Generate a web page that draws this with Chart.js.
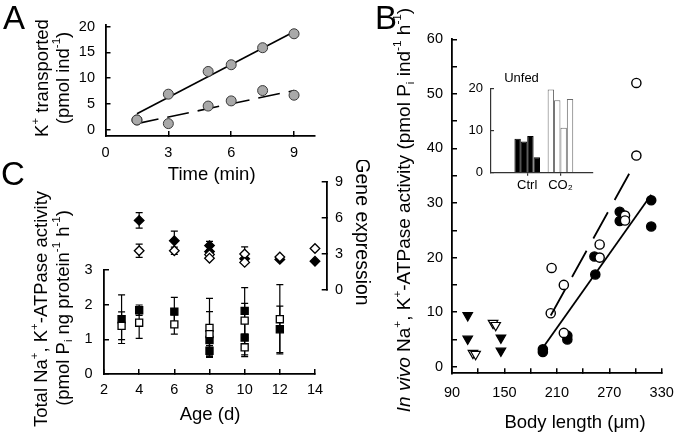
<!DOCTYPE html>
<html>
<head>
<meta charset="utf-8">
<script src="https://cdn.jsdelivr.net/npm/chart.js@4.4.1/dist/chart.umd.min.js"></script>
<style>
  body { margin: 0; background: #fff; }
  #wrap { position: relative; width: 676px; height: 435px; overflow: hidden; font-family: Arial, "Liberation Sans", sans-serif; }
  canvas { position: absolute; }
  .panel { position: absolute; font-size: 33px; line-height: 1; color: #000; }
</style>
</head>
<body>
<div id="wrap">
  <canvas id="chartA" width="340" height="195" style="left:0;top:0"></canvas>
  <canvas id="chartC" width="340" height="275" style="left:0;top:160px"></canvas>
  <canvas id="chartGene" width="375" height="150" style="left:0;top:160px"></canvas>
  <canvas id="chartB" width="336" height="435" style="left:340px;top:0"></canvas>
  <canvas id="chartInset" width="160" height="135" style="left:450px;top:63px"></canvas>
  <div class="panel" style="left:3px;top:1px">A</div>
  <div class="panel" style="left:375px;top:1px">B</div>
  <div class="panel" style="left:1px;top:157px">C</div>
</div>
<script>
// A: K+ transported vs time
const timeMin = [1.5, 3, 4.9, 6, 7.5, 9]
const kHigh = [1.9, 6.9, 11.3, 12.6, 15.9, 18.6]
const kLow = [1.9, 1.2, 4.6, 5.6, 7.6, 6.7]
const fitTime = [1.5, 9]
const fitHigh = [3.1, 19.0]
const fitLow = [1.2, 7.6]
const timeTicks = [0, 3, 6, 9]
const kTicks = [0, 5, 10, 15, 20]

// B: in vivo activity vs body length
const triFilledX = [108, 108, 146, 146]
const triFilledY = [9.4, 5.1, 5.3, 2.9]
const triOpenX = [114, 117, 137, 140]
const triOpenY = [2.5, 2.3, 8.0, 7.6]
const dotFilledX = [194, 194, 222, 222, 253, 254, 282, 282, 318, 318]
const dotFilledY = [2.7, 3.2, 5.7, 5.0, 20.2, 16.9, 28.4, 26.7, 30.5, 25.7]
const dotOpenX = [204, 203, 218, 218, 259, 259, 288, 288, 301, 301]
const dotOpenY = [18.1, 9.8, 15.0, 6.2, 22.4, 20.0, 27.7, 26.8, 52.0, 38.7]
const fitFilledX = [194, 318]
const fitFilledY = [3.5, 31.5]
const fitOpenX = [203, 297]
const fitOpenY = [9.4, 36.6]
const lengthTicks = [90, 120, 150, 180, 210, 240, 270, 300, 330]
const lengthLabels = ['90', '', '150', '', '210', '', '270', '', '330']
const activityTicks = [0, 5, 10, 15, 20, 25, 30, 35, 40, 45, 50, 55, 60]
const activityLabels = ['0', '', '10', '', '20', '', '30', '', '40', '', '50', '', '60']

// B inset: unfed larvae
const insetGroups = ['Ctrl', 'CO₂']
const insetCtrl = [8.1, 7.4, 8.7, 3.7]
const insetCO2 = [19.8, 17.2, 10.7, 17.5]
const insetTicks = [0, 10, 20]

// C: total activity and gene expression vs age
const ageTicks = [2, 4, 6, 8, 10, 12, 14]
const totalTicks = [0, 1, 2, 3]
const geneTicks = [0, 3, 6, 9]
const sqFilledAge = [3, 4, 6, 8, 8, 10, 10, 12]
const sqFilledVal = [1.58, 1.84, 1.80, 0.98, 0.67, 1.82, 1.05, 1.29]
const sqFilledErr = [0.70, 0.15, 0.41, 0.30, 0.15, 0.67, 0.50, 0.67]
const sqOpenAge = [3, 4, 6, 8, 8, 10, 10, 12]
const sqOpenVal = [1.39, 1.48, 1.43, 1.33, 1.15, 1.54, 0.77, 1.58]
const sqOpenErr = [0.40, 0.45, 0.28, 0.85, 0.65, 0.50, 0.27, 1.00]
const dmFilledAge = [4, 6, 8, 8, 10, 12, 14]
const dmFilledVal = [5.8, 4.1, 3.7, 3.2, 2.6, 2.55, 2.4]
const dmFilledErr = [0.65, 0.8, 0.35, 0, 0, 0, 0]
const dmOpenAge = [4, 6, 8, 8, 10, 10, 12, 14]
const dmOpenVal = [3.27, 3.27, 2.95, 2.65, 3.0, 2.3, 2.75, 3.46]
const dmOpenErr = [0.55, 0.3, 0.3, 0, 0.6, 0, 0, 0]

const FONT = 'Arial, "Liberation Sans", sans-serif'
const TITLE_SIZE = 18.5

const pts = (xs, ys) => xs.map((x, i) => ({ x: x, y: ys[i] }))

// axis with fixed size and explicit ticks, tick marks pointing inward
function scale(min, max, ticks, labels, size, pad, extra) {
    return Object.assign({
        type: 'linear',
        min: min,
        max: max,
        offset: false,
        afterBuildTicks: s => { s.ticks = ticks.map(v => ({ value: v })) },
        afterFit: s => {
            if (s.isHorizontal()) s.height = size; else s.width = size
            // keep label overhang from shrinking the plot area
            s.paddingLeft = s.paddingRight = s.paddingTop = s.paddingBottom = 0
        },
        border: { color: '#000', width: 1.8 },
        grid: { drawOnChartArea: false, color: '#000', lineWidth: 1.5, tickLength: -5, offset: false },
        ticks: {
            color: '#000', padding: pad, autoSkip: false, maxRotation: 0,
            font: { family: FONT, size: 14.5 },
            callback: (v, i) => labels[i]
        }
    }, extra)
}

// text with italic / super / subscript parts
function richText(ctx, parts, x, y, size, rot) {
    const fontFor = k => (k === 'i' ? 'italic ' : '') + (k === 'sup' || k === 'sub' ? size * 0.62 : size) + 'px ' + FONT
    let total = 0
    parts.forEach(p => { ctx.font = fontFor(p[1]); total += ctx.measureText(p[0]).width })
    ctx.save()
    ctx.translate(x, y)
    ctx.rotate(rot)
    ctx.fillStyle = '#000'
    ctx.textBaseline = 'middle'
    ctx.textAlign = 'left'
    let cx = -total / 2
    parts.forEach(p => {
        ctx.font = fontFor(p[1])
        const dy = p[1] === 'sup' ? -size * 0.36 : p[1] === 'sub' ? size * 0.28 : 0
        ctx.fillText(p[0], cx, dy)
        cx += ctx.measureText(p[0]).width
    })
    ctx.restore()
}

function titles(list) {
    return {
        id: 'titles',
        afterDraw(chart) {
            list.forEach(t => richText(chart.ctx, t.parts, t.x, t.y, t.size || TITLE_SIZE, t.rot || 0))
        }
    }
}

const errorBars = {
    id: 'errorBars',
    beforeDatasetsDraw(chart) {
        const ctx = chart.ctx
        chart.data.datasets.forEach(ds => {
            if (!ds.errors) return
            const xs = chart.scales.x
            const ys = chart.scales[ds.yAxisID || 'y']
            ctx.save()
            ctx.strokeStyle = '#000'
            ctx.lineWidth = 1.2
            ds.data.forEach((p, j) => {
                const e = ds.errors[j]
                if (!e) return
                const x = xs.getPixelForValue(p.x)
                const y1 = ys.getPixelForValue(p.y + e)
                const y2 = ys.getPixelForValue(p.y - e)
                ctx.beginPath()
                ctx.moveTo(x, y1); ctx.lineTo(x, y2)
                ctx.moveTo(x - 3.5, y1); ctx.lineTo(x + 3.5, y1)
                ctx.moveTo(x - 3.5, y2); ctx.lineTo(x + 3.5, y2)
                ctx.stroke()
            })
            ctx.restore()
        })
    }
}

function makeChart(id, type, datasets, scales, padding, plugins) {
    return new Chart(document.getElementById(id), {
        type: type,
        data: { datasets: datasets },
        options: {
            responsive: false,
            animation: false,
            layout: { padding: padding },
            scales: scales,
            plugins: { legend: { display: false }, tooltip: { enabled: false } }
        },
        plugins: plugins
    })
}

const grayDot = { pointRadius: 5, pointBackgroundColor: '#a9a9a9', pointBorderColor: '#3a3a3a', pointBorderWidth: 1, clip: false }

// ---- A ----
makeChart('chartA', 'scatter', [
    Object.assign({ data: pts(timeMin, kHigh) }, grayDot),
    Object.assign({ data: pts(timeMin, kLow) }, grayDot),
    { data: pts(fitTime, fitHigh), showLine: true, pointRadius: 0, borderColor: '#000', borderWidth: 1.6 },
    { data: pts(fitTime, fitLow), showLine: true, pointRadius: 0, borderColor: '#000', borderWidth: 1.6, borderDash: [22, 9] }
], {
    x: scale(0, 10, timeTicks, timeTicks.map(String), 53.2, 13.6),
    y: scale(-1.2, 20.3, kTicks, kTicks.map(String), 105.5, 15.5)
}, { left: 0, top: 25, right: 25, bottom: 5.8 }, [titles([
    { parts: [['K', ''], ['+', 'sup'], [' transported', '']], x: 43, y: 78, rot: -Math.PI / 2 },
    { parts: [['(pmol ind', ''], ['-1', 'sup'], [')', '']], x: 64, y: 78, rot: -Math.PI / 2 },
    { parts: [['Time (min)', '']], x: 211.7, y: 175 }
])])

// ---- C: squares, left axis ----
const square = { pointStyle: 'rect', pointRadius: 5, pointBorderColor: '#000', pointBorderWidth: 1.3, clip: false }
makeChart('chartC', 'scatter', [
    Object.assign({ data: pts(sqOpenAge, sqOpenVal), errors: sqOpenErr, pointBackgroundColor: '#fff' }, square),
    Object.assign({ data: pts(sqFilledAge, sqFilledVal), errors: sqFilledErr, pointBackgroundColor: '#000' }, square)
], {
    x: scale(2, 14, ageTicks, ageTicks.map(String), 55.2, 12.6),
    y: scale(0, 3, totalTicks, totalTicks.map(String), 104, 16.5)
}, { left: 0, top: 110, right: 25, bottom: 5.8 }, [errorBars, titles([
    { parts: [['Total Na', ''], ['+', 'sup'], [', K', ''], ['+', 'sup'], ['-ATPase activity', '']], x: 42, y: 149, rot: -Math.PI / 2 },
    { parts: [['(pmol P', ''], ['i', 'sub'], [' ng protein', ''], ['-1', 'sup'], [' h', ''], ['-1', 'sup'], [')', '']], x: 64, y: 148, rot: -Math.PI / 2 },
    { parts: [['Age (d)', '']], x: 210, y: 255 }
])])

// ---- C: diamonds, right axis ----
const diamond = { pointStyle: 'rectRot', pointRadius: 4.8, pointBorderColor: '#000', pointBorderWidth: 1.3, clip: false }
makeChart('chartGene', 'scatter', [
    Object.assign({ data: pts(dmOpenAge, dmOpenVal), errors: dmOpenErr, pointBackgroundColor: '#fff' }, diamond),
    Object.assign({ data: pts(dmFilledAge, dmFilledVal), errors: dmFilledErr, pointBackgroundColor: '#000' }, diamond)
], {
    x: { type: 'linear', display: false, min: 2, max: 14.666 },
    y: scale(0, 9, geneTicks, geneTicks.map(String), 48.3, 13.3, { position: 'right' })
}, { left: 104, top: 22, right: 0, bottom: 20 }, [errorBars, titles([
    { parts: [['Gene expression', '']], x: 361, y: 72, rot: Math.PI / 2, size: 19.5 }
])])

// ---- B ----
const tri = { pointStyle: 'triangle', rotation: 180, pointRadius: 5.5, pointBorderColor: '#000', pointBorderWidth: 1.2, clip: false }
const dot = { pointRadius: 4.6, pointBorderColor: '#000', pointBorderWidth: 1.4, clip: false }
makeChart('chartB', 'scatter', [
    Object.assign({ data: pts(triFilledX, triFilledY), pointBackgroundColor: '#000' }, tri),
    Object.assign({ data: pts(triOpenX, triOpenY), pointBackgroundColor: '#fff' }, tri),
    { data: pts(fitFilledX, fitFilledY), showLine: true, pointRadius: 0, borderColor: '#000', borderWidth: 1.8 },
    { data: pts(fitOpenX, fitOpenY), showLine: true, pointRadius: 0, borderColor: '#000', borderWidth: 1.8, borderDash: [30, 14] },
    Object.assign({ data: pts(dotOpenX, dotOpenY), pointBackgroundColor: '#fff' }, dot),
    Object.assign({ data: pts(dotFilledX, dotFilledY), pointBackgroundColor: '#000' }, dot)
], {
    x: scale(90, 330, lengthTicks, lengthLabels, 59.9, 16.3),
    y: scale(-1.2, 60, activityTicks, activityLabels, 112, 14)
}, { left: 0, top: 39.3, right: 14.3, bottom: 1.8 }, [titles([
    { parts: [['In vivo', 'i'], [' Na', ''], ['+', 'sup'], [', K', ''], ['+', 'sup'], ['-ATPase activity (pmol P', ''], ['i', 'sub'], [' ind', ''], ['-1', 'sup'], [' h', ''], ['-1', 'sup'], [')', '']], x: 65, y: 210, rot: -Math.PI / 2, size: 19 },
    { parts: [['Body length (μm)', '']], x: 235, y: 423 }
])])

// ---- B inset ----
const insetSets = insetCtrl.map((c, i) => ({
    data: [{ x: 1, y: c }, { x: 2, y: insetCO2[i] }],
    backgroundColor: ['#000', '#fff'],
    borderColor: ['#000', '#6a6a6a'],
    borderWidth: 1,
    categoryPercentage: 0.77,
    barPercentage: 1
}))
const insetY = scale(0, 20, insetTicks, insetTicks.map(String), 41, 11)
insetY.border = { color: '#333', width: 1.2 }
insetY.grid = { drawOnChartArea: false, color: '#333', lineWidth: 1.2, tickLength: -3 }
insetY.ticks.font = { family: FONT, size: 13 }
const insetX = scale(-0.09, 2.98, [1, 2], insetGroups, 25.3, 1.5)
insetX.border = { color: '#333', width: 1.2 }
insetX.grid = { drawOnChartArea: false, color: '#333', lineWidth: 1.2, tickLength: 3, offset: false }
insetX.ticks.font = { family: FONT, size: 13 }
new Chart(document.getElementById('chartInset'), {
    type: 'bar',
    data: { datasets: insetSets },
    options: {
        responsive: false,
        animation: false,
        layout: { padding: { left: 0, top: 0, right: 17, bottom: 0 } },
        scales: { x: insetX, y: insetY },
        plugins: {
            legend: { display: false },
            tooltip: { enabled: false },
            title: { display: true, text: 'Unfed', color: '#000', font: { family: FONT, size: 13, weight: 'normal' }, padding: { top: 8, bottom: 2 } }
        }
    }
})
</script>
</body>
</html>
